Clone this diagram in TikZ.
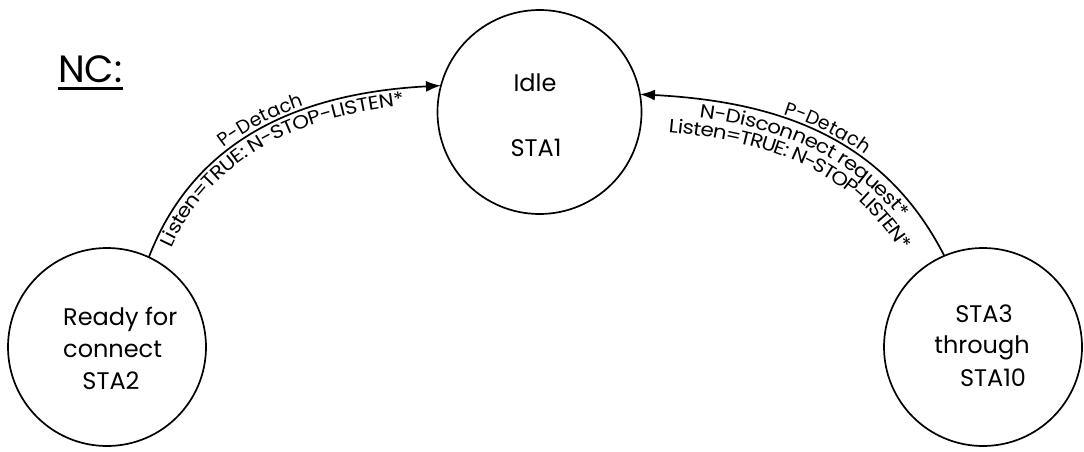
\documentclass[tikz,border=0pt]{standalone}
\usepackage{fontspec}
\setmainfont{Poppins}
\newfontfamily\arcwidefamily[FakeStretch=1.13]{Poppins}
\usetikzlibrary{arrows.meta,decorations.text}
\newcommand\statefont{\fontsize{24}{28}\selectfont}
\newcommand\arcfont{\fontsize{19}{22}\selectfont}
\newcommand\arcwidefont{\arcwidefamily\fontsize{19}{22}\selectfont}
\begin{document}
\begin{tikzpicture}[x=1pt,y=1pt,
  state/.style={draw,circle,line width=1.7pt,inner sep=0pt,outer sep=0pt},
  txt/.style={font=\statefont,inner sep=0pt},
  trans/.style={line width=1.7pt,-{Latex[length=15pt,width=11pt]}},
  arctext/.style={decorate,decoration={text along path,text={|\arcfont|#1}}},
  arcwidetext/.style={decorate,decoration={text along path,text={|\arcwidefont|#1}}},
]
\useasboundingbox (0,0) rectangle (1084,-452);

% title
\node[font=\fontsize{38}{44}\selectfont,inner sep=0pt,anchor=base west] (nc) at (58,-82) {NC:};
\draw[line width=3pt] ([yshift=-6pt]nc.base west) -- ([yshift=-6pt]nc.base east);

% states
\node[state,minimum size=204pt] (idle) at (539.5,-112) {};
\node[state,minimum size=198pt] (sta2) at (107,-347) {};
\node[state,minimum size=198pt] (sta3) at (983,-347) {};

\node[txt,anchor=base] (idleA) at (535,-92) {Idle};
\node[txt,anchor=base] (idleB) at (536,-156) {STA1};

\node[txt,anchor=base west] (sta2A) at (63,-325) {Ready for};
\node[txt,anchor=base west] (sta2B) at (63,-357) {connect};
\node[txt,anchor=base] (sta2C) at (111,-389) {STA2};

\node[txt,anchor=base] (sta3A) at (984,-322) {STA3};
\node[txt,anchor=base] (sta3B) at (982,-353) {through};
\node[txt,anchor=base] (sta3C) at (993,-386) {STA10};

% transitions
\draw[trans] (sta2.65) to[out=69,in=183] (idle.165);
\draw[trans] (sta3.113) to[out=117,in=-3] (idle.10);

% labels along the transitions
\path[arctext={P-Detach},decoration={text align={left,left indent=133pt},raise=4pt}]
  (sta2.65) to[out=69,in=183] (idle.165);
\path[arcwidetext={Listen=TRUE: N-STOP-LISTEN*},decoration={text align={left,left indent=18pt},raise=-17pt}]
  (sta2.65) to[out=69,in=183] (idle.165);

\path[arctext={P-Detach},decoration={text align={left,left indent=145pt},raise=4pt}]
  (idle.10) to[out=-3,in=117] (sta3.113);
\path[arcwidetext={N-Disconnect request*},decoration={text align={left,left indent=62pt},raise=-18pt}]
  (idle.10) to[out=-3,in=117] (sta3.113);
\path[arcwidetext={Listen=TRUE: N-STOP-LISTEN*},decoration={text align={left,left indent=32pt},raise=-36pt}]
  (idle.10) to[out=-3,in=117] (sta3.113);
\end{tikzpicture}
\end{document}
